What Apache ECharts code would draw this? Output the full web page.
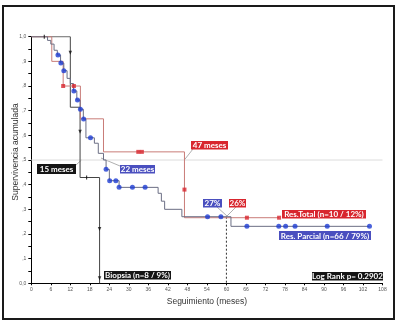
<!DOCTYPE html>
<html>
<head>
<meta charset="utf-8">
<script src="https://cdn.jsdelivr.net/npm/echarts@6/dist/echarts.min.js"></script>
<style>
html,body{margin:0;background:#fff}
#chart{width:399px;height:323px}
</style>
</head>
<body>
<div id="chart"></div>
<script>
// tick labels
var xTicks = [0, 6, 12, 18, 24, 30, 36, 42, 48, 54, 60, 66, 72, 78, 84, 90, 96, 102, 108];

// Biopsia (n=8)
var bioX = [0, 12, 15, 21];
var bioS = [1, 0.714, 0.429, 0];
var bioCensX = [4, 17];
var bioCensS = [1, 0.429];
var bioArrowX = [12, 15, 21, 21];
var bioArrowS = [0.935, 0.615, 0.22, 0.02];

// Res. Total (n=10)
var totX = [0, 6.3, 9.8, 15.1, 22.2, 47.1, 76.2];
var totS = [1, 0.9, 0.8, 0.667, 0.533, 0.266, 0.266];
var totMarkX = [9.8, 13.1, 32.9, 34, 47.1, 66.3, 76.2];
var totMarkS = [0.8, 0.8, 0.533, 0.533, 0.38, 0.266, 0.266];

// Res. Parcial (n=66)
var parX = [0, 5, 6, 7, 8, 9, 10, 11, 12, 13, 14, 15, 16, 16.8, 19.4, 20.6, 22.2, 23, 24, 27, 39, 40, 41, 46.3, 61.4, 104];
var parS = [1, 0.985, 0.97, 0.945, 0.926, 0.893, 0.862, 0.831, 0.81, 0.78, 0.743, 0.706, 0.666, 0.59, 0.568, 0.527, 0.5, 0.462, 0.416, 0.389, 0.365, 0.333, 0.3, 0.27, 0.231, 0.231];
var parMarkX = [8.2, 9.1, 10, 13.1, 14.2, 15.1, 16.1, 18.2, 23, 24.1, 26, 27, 31.1, 35, 54.2, 58.3, 66.3, 76.1, 78.2, 81.1, 91, 104];
var parMarkS = [0.926, 0.893, 0.862, 0.78, 0.743, 0.706, 0.666, 0.59, 0.462, 0.416, 0.416, 0.389, 0.389, 0.389, 0.27, 0.27, 0.231, 0.231, 0.231, 0.231, 0.231, 0.231];

// guide at 60 months
var guideX = [60, 60];
var guideS = [0.27, 0];

function pairs(xs, ys) {
  return xs.map(function (x, i) { return [x, ys[i]]; });
}

function tag(x, y, w, h, color, text) {
  return {
    type: 'group',
    children: [
      { type: 'rect', shape: { x: x, y: y, width: w, height: h }, style: { fill: color } },
      { type: 'text', x: x + w / 2, y: y + h / 2 + 0.5,
        style: { text: text, fill: '#fff', font: 'bold 8px Lato, sans-serif', align: 'center', verticalAlign: 'middle' } }
    ]
  };
}

function lead(x1, y1, x2, y2) {
  return { type: 'line', shape: { x1: x1, y1: y1, x2: x2, y2: y2 }, style: { stroke: '#9a9a9a', lineWidth: 0.8 } };
}

var myChart = echarts.init(document.getElementById('chart'));
var RED = '#d8262e', BLUE = '#4a4fbf', BLK = '#151515';

var option = {
  animation: false,
  backgroundColor: '#fff',
  grid: { left: 31.3, right: 16.5, top: 36.7, bottom: 39.7 },
  xAxis: {
    type: 'value', min: 0, max: 108, interval: 6,
    name: 'Seguimiento (meses)', nameLocation: 'middle', nameGap: 14,
    nameTextStyle: { fontSize: 8.5, color: '#333', fontFamily: 'Liberation Sans' },
    axisLine: { lineStyle: { color: '#000', width: 1 } },
    axisTick: { length: 2, lineStyle: { color: '#000' } },
    axisLabel: { fontSize: 5, color: '#555', margin: 4,
      formatter: function (v) { return xTicks.indexOf(v) >= 0 ? String(v) : ''; } },
    splitLine: { show: false }
  },
  yAxis: {
    type: 'value', min: 0, max: 1, interval: 0.1,
    axisLine: { show: true, lineStyle: { color: '#000', width: 1 } },
    axisTick: { show: true, length: 3, lineStyle: { color: '#000' } },
    minorTick: { show: true, splitNumber: 2, length: 3, lineStyle: { color: '#000' } },
    axisLabel: { fontSize: 5, color: '#555', margin: 5,
      formatter: function (v) {
        var d = Math.round(v * 10);
        if (d === 10) return '1,0';
        if (d === 0) return '0,0';
        return ',' + d;
      } },
    splitLine: { show: false }
  },
  series: [
    { type: 'line', data: [[0, 0.5], [108, 0.5]], symbol: 'none', silent: true,
      lineStyle: { color: '#dcdcdc', width: 1 }, z: 1 },
    { type: 'line', data: pairs(guideX, guideS), symbol: 'none',
      lineStyle: { color: '#333', width: 1, type: [2, 2] }, z: 2 },
    { type: 'line', step: 'end', data: pairs(bioX, bioS), symbol: 'none',
      lineStyle: { color: '#444', width: 1 }, z: 3 },
    { type: 'line', step: 'end', data: pairs(totX, totS), symbol: 'none',
      lineStyle: { color: '#c97c78', width: 1 }, z: 3 },
    { type: 'line', step: 'end', data: pairs(parX, parS), symbol: 'none',
      lineStyle: { color: '#6b6e84', width: 1 }, z: 4 },
    { type: 'scatter', data: pairs(bioCensX, bioCensS), symbol: 'rect', symbolSize: [1.2, 4],
      itemStyle: { color: '#111' }, z: 5 },
    { type: 'scatter', data: pairs(bioArrowX, bioArrowS), symbol: 'triangle', symbolRotate: 180,
      symbolSize: [3.5, 4], itemStyle: { color: '#111' }, z: 5 },
    { type: 'scatter', data: pairs(totMarkX, totMarkS), symbol: 'rect', symbolSize: 4,
      itemStyle: { color: RED }, z: 6 },
    { type: 'scatter', data: pairs(parMarkX, parMarkS), symbol: 'circle', symbolSize: 5,
      itemStyle: { color: '#1e3cd2' }, z: 7 }
  ],
  graphic: [
    { type: 'rect', shape: { x: 3, y: 6, width: 391, height: 313 },
      style: { fill: 'none', stroke: '#1a1a1a', lineWidth: 2 }, z: 0 },
    { type: 'text', x: 16, y: 152, rotation: Math.PI / 2,
      style: { text: 'Supervivencia acumulada', fill: '#333', font: '8.5px "Liberation Sans", sans-serif',
        align: 'center', verticalAlign: 'middle' } },
    lead(76, 165, 81.5, 160),
    lead(120, 166, 101, 158),
    lead(193, 149, 184.3, 160),
    lead(217, 207, 227, 216),
    lead(236, 207, 227, 216),
    tag(37, 164, 39, 10, BLK, '15 meses'),
    tag(120, 165, 35, 8.5, BLUE, '22 meses'),
    tag(191, 141, 37, 8.5, RED, '47 meses'),
    tag(203, 199, 19, 8.5, BLUE, '27%'),
    tag(229, 199, 17, 8.5, RED, '26%'),
    tag(282, 210, 84, 8.5, RED, 'Res.Total (n=10 / 12%)'),
    tag(279, 231, 92, 9, BLUE, 'Res. Parcial (n=66 / 79%)'),
    tag(104, 271, 67, 8.5, BLK, 'Biopsia (n=8 / 9%)'),
    tag(312, 272, 71, 8.5, BLK, 'Log Rank p= 0.2902')
  ]
};
myChart.setOption(option);
</script>
</body>
</html>
